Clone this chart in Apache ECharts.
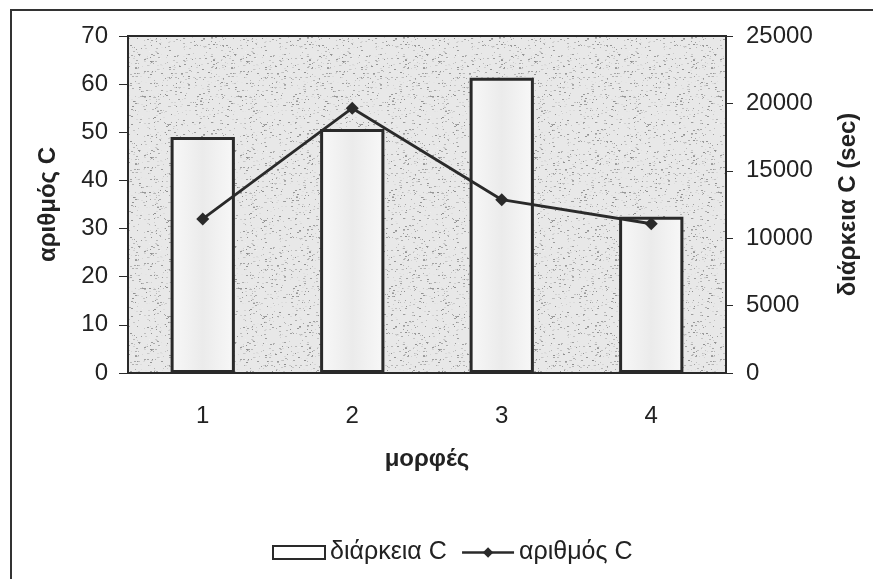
<!DOCTYPE html>
<html>
<head>
<meta charset="utf-8">
<script src="https://cdn.jsdelivr.net/npm/echarts@6/dist/echarts.min.js"></script>
<style>
  html, body { margin: 0; padding: 0; background: #fff; }
  #chart { width: 873px; height: 579px; }
</style>
</head>
<body>
<div id="chart"></div>
<script>
// data
const categories = ['1', '2', '3', '4']
const durationC = [17500, 18100, 21900, 11600]   // διάρκεια C (sec), right axis
const countC = [32, 55, 36, 31]                  // αριθμός C, left axis
const leftTicks = { min: 0, max: 70, interval: 10 }
const rightTicks = { min: 0, max: 25000, interval: 5000 }

// speckled grey texture for the plot area
const makeTexture = () => {
  const c = document.createElement('canvas')
  c.width = 96
  c.height = 96
  const ctx = c.getContext('2d')
  ctx.fillStyle = '#e8e8e8'
  ctx.fillRect(0, 0, 96, 96)
  let s = 7
  const next = () => { s = (s * 16807) % 2147483647; return s / 2147483647 }
  for (let i = 0; i < 650; i++) {
    const g = Math.floor(140 + next() * 100)
    ctx.fillStyle = 'rgb(' + g + ',' + g + ',' + g + ')'
    ctx.fillRect(Math.floor(next() * 96), Math.floor(next() * 96), 1 + Math.floor(next() * 2), 1)
  }
  return c
}

const chart = echarts.init(document.getElementById('chart'))
const font = '"Liberation Sans", Arial, sans-serif'
const dark = '#2a2a2a'
const textColor = '#222'

const option = {
  backgroundColor: '#fff',
  animation: false,
  textStyle: { fontFamily: font },
  graphic: [{
    type: 'rect',
    shape: { x: 11, y: 10, width: 880, height: 600 },
    style: { fill: null, stroke: '#333', lineWidth: 2 },
    silent: true
  }],
  grid: {
    left: 128, right: 147, top: 36, bottom: 206,
    show: true,
    backgroundColor: { image: makeTexture(), repeat: 'repeat' },
    borderColor: dark,
    borderWidth: 2
  },
  legend: {
    left: 272, top: 540, padding: 0,
    itemWidth: 52, itemHeight: 13, itemGap: 14,
    textStyle: { fontFamily: font, fontSize: 25, color: textColor },
    data: [
      { name: 'διάρκεια C', icon: 'rect', itemStyle: { color: '#fff', borderColor: dark, borderWidth: 2 } },
      { name: 'αριθμός C', lineStyle: { width: 2.5, color: dark } }
    ]
  },
  xAxis: {
    type: 'category',
    data: categories,
    name: 'μορφές',
    nameLocation: 'middle',
    nameGap: 74,
    nameTextStyle: { fontFamily: font, fontSize: 24, fontWeight: 'bold', color: textColor },
    axisLine: { lineStyle: { color: dark, width: 2 } },
    axisTick: { length: 6, lineStyle: { color: dark } },
    axisLabel: { margin: 31, fontSize: 24, color: textColor, fontFamily: font }
  },
  yAxis: [
    {
      type: 'value',
      min: leftTicks.min, max: leftTicks.max, interval: leftTicks.interval,
      name: 'αριθμός C',
      nameLocation: 'middle',
      nameRotate: 90,
      nameGap: 68,
      nameTextStyle: { fontFamily: font, fontSize: 24, fontWeight: 'bold', color: textColor },
      axisLine: { show: true, lineStyle: { color: dark, width: 2 } },
      axisTick: { show: true, length: 9, lineStyle: { color: dark } },
      axisLabel: { margin: 20, fontSize: 24, color: textColor, fontFamily: font },
      splitLine: { show: false }
    },
    {
      type: 'value',
      min: rightTicks.min, max: rightTicks.max, interval: rightTicks.interval,
      name: 'διάρκεια C (sec)',
      nameLocation: 'middle',
      nameRotate: 90,
      nameGap: 110,
      nameTextStyle: { fontFamily: font, fontSize: 24, fontWeight: 'bold', color: textColor },
      axisLine: { show: true, lineStyle: { color: dark, width: 2 } },
      axisTick: { show: true, length: 7, lineStyle: { color: dark } },
      axisLabel: { margin: 20, fontSize: 24, color: textColor, fontFamily: font, formatter: v => String(v) },
      splitLine: { show: false }
    }
  ],
  series: [
    {
      name: 'διάρκεια C',
      type: 'bar',
      yAxisIndex: 1,
      barWidth: '43%',
      data: durationC,
      itemStyle: {
        color: new echarts.graphic.LinearGradient(0, 0, 1, 0, [
          { offset: 0, color: '#f8f8f8' },
          { offset: 0.5, color: '#ebebeb' },
          { offset: 1, color: '#f8f8f8' }
        ]),
        borderColor: dark,
        borderWidth: 3
      }
    },
    {
      name: 'αριθμός C',
      type: 'line',
      yAxisIndex: 0,
      data: countC,
      symbol: 'diamond',
      symbolSize: 13,
      z: 5,
      lineStyle: { color: dark, width: 2.8 },
      itemStyle: { color: dark }
    }
  ]
}

chart.setOption(option)
</script>
</body>
</html>
